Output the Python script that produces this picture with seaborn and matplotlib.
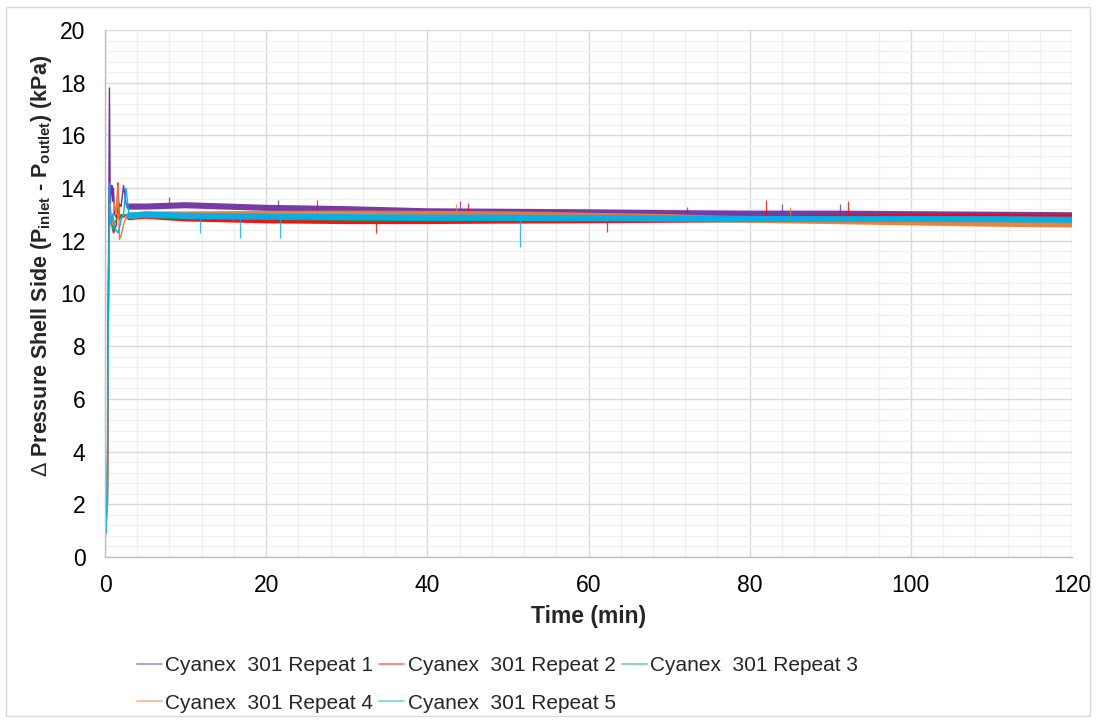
import numpy as np
import pandas as pd
import matplotlib
matplotlib.use("Agg")
import matplotlib.pyplot as plt
import seaborn as sns
from matplotlib.ticker import MultipleLocator
from matplotlib.patches import Rectangle

# ---------------- data ----------------
series_names = ["Cyanex  301 Repeat 1", "Cyanex  301 Repeat 2", "Cyanex  301 Repeat 3",
                "Cyanex  301 Repeat 4", "Cyanex  301 Repeat 5"]
series_colors = ["#7030A0", "#FF0000", "#00B050", "#ED7D31", "#00B0F0"]

# start-up transient (min)
trans_t = [0, 0.15, 0.3, 0.4, 0.45, 0.55, 0.65, 0.75, 0.85, 0.95, 1.05, 1.2, 1.4, 1.6, 1.8, 2.0, 2.3, 2.6, 3.0]
trans_r1 = [1.9, 1.8, 2.0, 9.5, 12.0, 17.8, 13.4, 13.9, 14.1, 13.5, 14.0, 13.0, 12.9, 13.2, 13.4, 13.3, 14.1, 13.4, 13.3]
trans_r2 = [2.1, 2.0, 2.2, 8.5, 11.0, 12.8, 13.2, 12.9, 12.7, 12.5, 12.3, 12.4, 12.6, 14.2, 12.8, 13.0, 12.9, 13.0, 12.9]
trans_r3 = [1.8, 1.9, 2.0, 8.2, 11.0, 12.5, 13.0, 12.8, 12.6, 12.4, 12.5, 12.7, 12.8, 12.9, 13.0, 12.9, 13.0, 12.95, 12.95]
trans_r4 = [1.9, 1.2, 1.8, 8.0, 10.5, 12.4, 13.3, 12.9, 12.6, 12.8, 13.1, 13.4, 13.0, 14.1, 12.05, 12.2, 12.6, 12.9, 12.95]
trans_r5 = [1.8, 0.9, 3.8, 9.0, 10.0, 14.2, 12.7, 12.6, 12.9, 13.0, 12.8, 12.5, 12.4, 12.3, 12.5, 12.8, 13.0, 14.0, 12.95]

# steady-state band centre (min)
trend_t = [3, 5, 10, 20, 30, 40, 50, 60, 70, 80, 90, 100, 110, 120]
trend_r1 = [13.3, 13.3, 13.35, 13.25, 13.2, 13.12, 13.1, 13.08, 13.05, 13.03, 13.03, 13.01, 12.99, 12.97]
trend_r2 = [12.9, 12.95, 12.85, 12.78, 12.75, 12.75, 12.77, 12.78, 12.8, 12.82, 12.88, 12.9, 12.9, 12.88]
trend_r3 = [12.95, 12.98, 12.93, 12.9, 12.88, 12.86, 12.86, 12.85, 12.83, 12.81, 12.81, 12.8, 12.8, 12.78]
trend_r4 = [12.95, 13.0, 13.0, 13.02, 13.03, 13.02, 13.0, 12.95, 12.9, 12.8, 12.75, 12.7, 12.65, 12.62]
trend_r5 = [12.95, 13.0, 12.95, 12.92, 12.9, 12.88, 12.88, 12.87, 12.85, 12.83, 12.83, 12.83, 12.82, 12.8]

# isolated spikes: series index, time, band value, spike value
spike_series = [0, 0, 0, 0, 0, 1, 1, 1, 1, 1, 1, 1, 4, 4, 4, 4, 3, 3]
spike_t = [8.0, 21.5, 44.0, 84.0, 91.2, 26.3, 33.6, 62.3, 72.2, 82.0, 92.2, 45.0, 11.8, 16.7, 21.7, 51.5, 43.5, 85.0]
spike_base = [13.35, 13.25, 13.12, 13.02, 13.02, 12.77, 12.75, 12.78, 12.8, 12.85, 12.9, 12.75, 12.95, 12.93, 12.92, 12.88, 13.02, 12.8]
spike_val = [13.65, 13.55, 13.5, 13.4, 13.4, 13.55, 12.3, 12.35, 13.3, 13.55, 13.5, 13.45, 12.3, 12.1, 12.1, 11.75, 13.4, 13.3]

x_ticks = [0, 20, 40, 60, 80, 100, 120]
y_ticks = [0, 2, 4, 6, 8, 10, 12, 14, 16, 18, 20]

# ---------------- plotting ----------------
sns.set_theme(style="white")
plt.rcParams["font.family"] = ["Liberation Sans", "DejaVu Sans"]
plt.rcParams["mathtext.fontset"] = "custom"
plt.rcParams["mathtext.rm"] = "Liberation Sans"
plt.rcParams["mathtext.bf"] = "Liberation Sans:bold"
plt.rcParams["mathtext.it"] = "Liberation Sans:italic"

fig = plt.figure(figsize=(10.96, 7.22), dpi=100)
ax = fig.add_axes([105 / 1096, 1 - 557 / 722, (1072 - 105) / 1096, (557 - 30) / 722])

trans_all = [trans_r1, trans_r2, trans_r3, trans_r4, trans_r5]
trend_all = [trend_r1, trend_r2, trend_r3, trend_r4, trend_r5]

for i, (name, col) in enumerate(zip(series_names, series_colors)):
    df_tr = pd.DataFrame({"t": trans_t, "v": trans_all[i]})
    sns.lineplot(data=df_tr, x="t", y="v", ax=ax, color=col, lw=1.0, estimator=None,
                 sort=False, legend=False)
    df_bd = pd.DataFrame({"t": trend_t, "v": trend_all[i]})
    sns.lineplot(data=df_bd, x="t", y="v", ax=ax, color=col, lw=4.4, estimator=None,
                 sort=False, legend=False, alpha=0.95)
    idx = [k for k, s in enumerate(spike_series) if s == i]
    if idx:
        ax.vlines([spike_t[k] for k in idx], [spike_base[k] for k in idx],
                  [spike_val[k] for k in idx], color=col, lw=0.9, alpha=0.8)

# legend proxies, ordered so rows read 1-2-3 / 4-5
handles = [plt.Line2D([], [], color=c, lw=1.2, alpha=0.55) for c in series_colors]
order = [0, 3, 1, 4, 2]
fig.legend([handles[k] for k in order], [series_names[k] for k in order],
           loc="upper left", bbox_to_anchor=(137 / 1096, 1 - 656 / 722),
           ncol=3, frameon=False, fontsize=15, handlelength=1.2, handletextpad=0.15,
           columnspacing=0.3, labelspacing=0.9, borderpad=0, borderaxespad=0)

ax.set_xlim(0, 120)
ax.set_ylim(0, 20)
ax.set_xticks(x_ticks)
ax.set_yticks(y_ticks)
ax.xaxis.set_minor_locator(MultipleLocator(4))
ax.yaxis.set_minor_locator(MultipleLocator(0.4))
ax.grid(which="major", color="#D9D9D9", lw=1.0)
ax.grid(which="minor", color="#F0F0F0", lw=1.0)
ax.set_axisbelow(True)
ax.tick_params(which="both", length=0, labelsize=16.5, colors="black")
ax.tick_params(axis="x", pad=12)
ax.tick_params(axis="y", pad=14)
for s in ["top", "right"]:
    ax.spines[s].set_visible(False)
for s in ["left", "bottom"]:
    ax.spines[s].set_color("#BFBFBF")
    ax.spines[s].set_linewidth(1.0)

ax.set_xlabel("Time (min)", fontsize=16.5, fontweight="bold")
ax.xaxis.set_label_coords(0.5, (557 - 617) / 527, transform=ax.transAxes)
ax.xaxis.label.set_va("center")
ax.set_ylabel(r"$\mathrm{\Delta}$ Pressure Shell Side (P$_{\mathbf{inlet}}$ - P$_{\mathbf{outlet}}$) (kPa)",
              fontsize=15.5, fontweight="bold")
ax.yaxis.set_label_coords((42 - 105) / 967, (557 - 266) / 527, transform=ax.transAxes)
ax.yaxis.label.set_va("center")

fig.patches.append(Rectangle((6 / 1096, 1 - 716 / 722), 1084 / 1096, 709 / 722,
                             transform=fig.transFigure, fill=False, edgecolor="#D9D9D9", lw=1.0))

fig.savefig("out.png", dpi=100)
